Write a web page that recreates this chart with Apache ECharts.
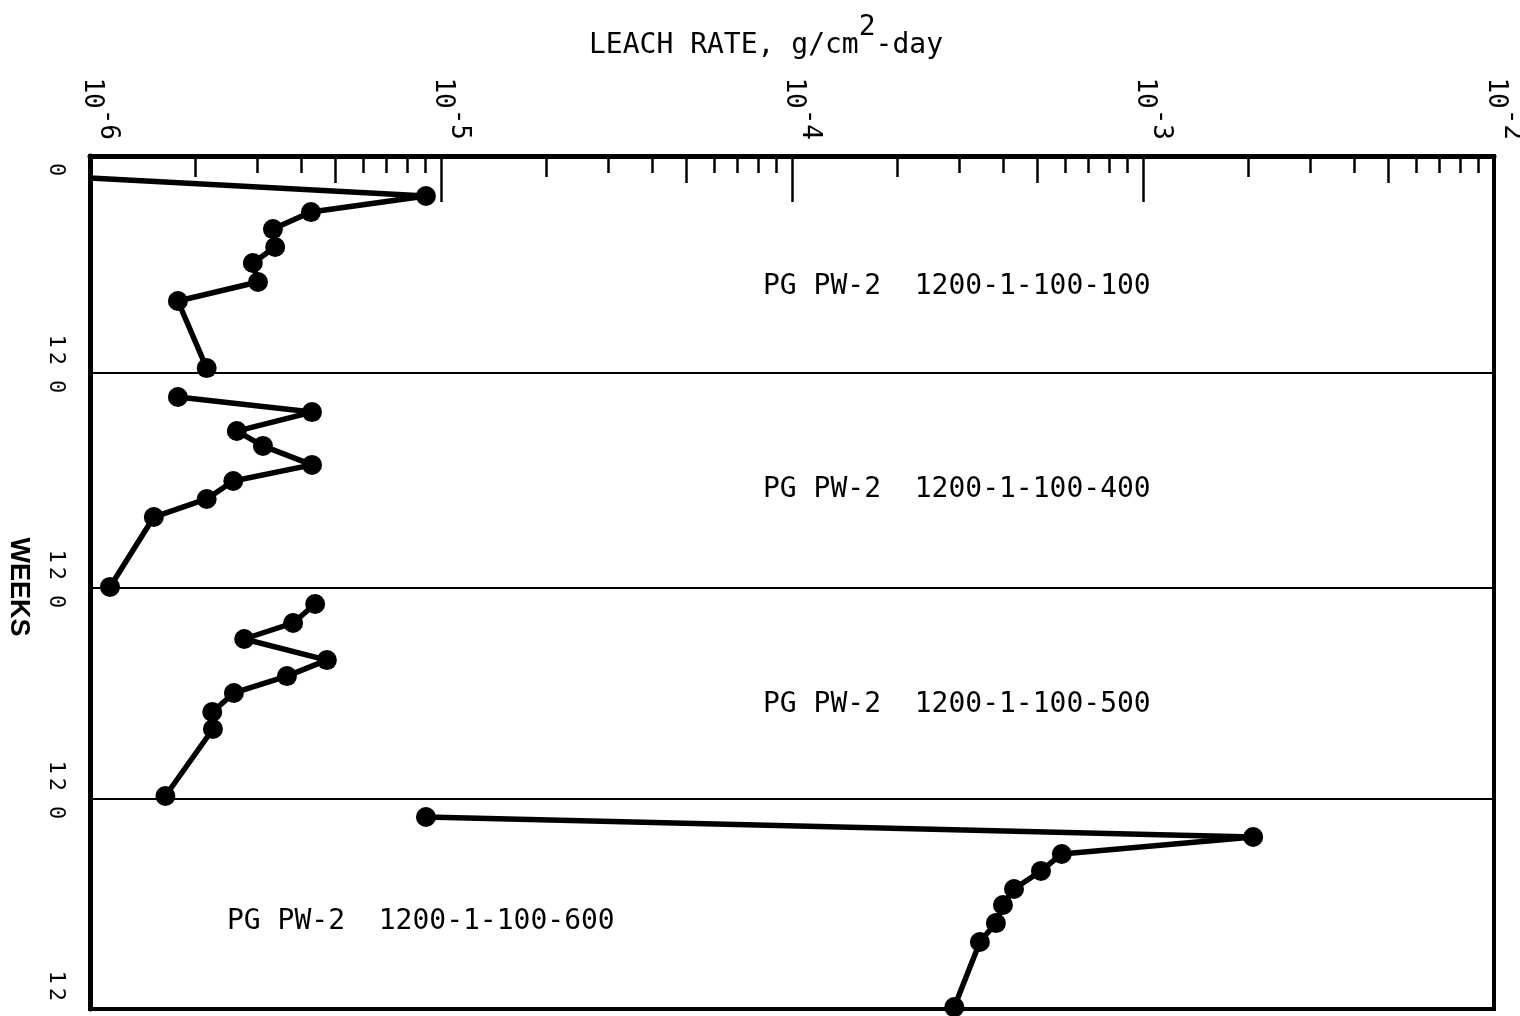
<!DOCTYPE html>
<html>
<head>
<meta charset="utf-8">
<script src="https://cdn.jsdelivr.net/npm/echarts@6/dist/echarts.min.js"></script>
<style>
html,body{margin:0;padding:0;background:#fff;}
#chart{width:1520px;height:1016px;}
</style>
</head>
<body>
<div id="chart"></div>
<script>
// ---------------- data ----------------
const axisTitle = '{b|LEACH RATE, g/cm}{s|2}{b|-day}';
const weeksAxisName = 'WEEKS';
const panelLabels = [
  'PG PW-2  1200-1-100-100',
  'PG PW-2  1200-1-100-400',
  'PG PW-2  1200-1-100-500',
  'PG PW-2  1200-1-100-600'
];
const rateMin = 1e-6;
const rateMax = 1e-2;
const weekMin = 0;
const weekMax = 12;
const minorMultipliers5 = [5];
const minorMultipliers2 = [2];
const minorMultipliersOther = [3, 4, 6, 7, 8, 9];

// weeks (0 at top of each panel, 12 at bottom) and leach rate g/cm2-day
const weeksP1 = [1.22, 2.21, 3.10, 4.04, 5.03, 5.92, 6.97, 8.02, 11.73];
const rateP1  = [1.0e-6, 9.06e-6, 4.26e-6, 3.32e-6, 3.37e-6, 2.91e-6, 3.01e-6, 1.78e-6, 2.15e-6];

const weeksP2 = [1.34, 2.18, 3.24, 4.07, 5.13, 6.03, 7.03, 8.04, 11.94];
const rateP2  = [1.78e-6, 4.29e-6, 2.62e-6, 3.11e-6, 4.29e-6, 2.56e-6, 2.15e-6, 1.52e-6, 1.14e-6];

const weeksP3 = [0.91, 1.99, 2.90, 4.10, 5.01, 5.97, 7.05, 8.02, 11.83];
const rateP3  = [4.38e-6, 3.79e-6, 2.75e-6, 4.73e-6, 3.64e-6, 2.57e-6, 2.23e-6, 2.24e-6, 1.64e-6];

const weeksP4 = [1.03, 2.17, 3.14, 4.11, 5.14, 6.06, 7.09, 8.17, 11.89];
const rateP4  = [9.06e-6, 2.06e-3, 5.87e-4, 5.12e-4, 4.29e-4, 3.99e-4, 3.81e-4, 3.43e-4, 2.90e-4];

// ---------------- layout / style ----------------
const MONO = "'DejaVu Sans Mono', 'Liberation Mono', monospace";
const PLOT_LEFT = 90, PLOT_WIDTH = 1404;
const panelTops = [156, 373, 588, 799];
const panelHeights = [217, 215, 211, 210];
const panelLabelPos = [[763, 287], [763, 490], [763, 705], [227, 922]];

const panels = [
  {weeks: weeksP1, rates: rateP1, hideFirstMarker: true},
  {weeks: weeksP2, rates: rateP2, hideFirstMarker: false},
  {weeks: weeksP3, rates: rateP3, hideFirstMarker: false},
  {weeks: weeksP4, rates: rateP4, hideFirstMarker: false}
];

const logMin = Math.log10(rateMin), logMax = Math.log10(rateMax);
function minorValues(mults) {
  const out = [];
  for (let e = logMin; e < logMax; e++) {
    mults.forEach(m => out.push(e + Math.log10(m)));
  }
  return out;
}

const grids = panelTops.map((t, i) => ({
  left: PLOT_LEFT, width: PLOT_WIDTH, top: t, height: panelHeights[i],
  show: true, borderColor: '#000', borderWidth: 2, backgroundColor: 'transparent',
  containLabel: false, outerBoundsMode: 'none'
}));
// overlay frame
grids.push({
  left: PLOT_LEFT, width: PLOT_WIDTH, top: panelTops[0],
  height: panelTops[3] + panelHeights[3] - panelTops[0],
  show: true, borderColor: '#000', borderWidth: 4, backgroundColor: 'transparent',
  containLabel: false, outerBoundsMode: 'none'
});

const xAxes = [];
panels.forEach((p, i) => {
  xAxes.push({
    type: 'log', logBase: 10, gridIndex: i, min: rateMin, max: rateMax,
    position: 'top', show: i === 0,
    axisLine: {show: true, onZero: false, lineStyle: {color: '#000', width: 5}},
    axisTick: {show: true, inside: true, length: 46, lineStyle: {color: '#000', width: 2.5}},
    minorTick: {show: false},
    splitLine: {show: false},
    axisLabel: {
      show: true, showMinLabel: true, showMaxLabel: true,
      rotate: 90, margin: 16, align: 'right', verticalAlign: 'middle',
      padding: [0, 0, 20, 0],
      formatter: v => '{b|10}{s|' + Math.round(Math.log10(v)) + '}',
      rich: {
        b: {fontFamily: MONO, fontSize: 26, lineHeight: 42, verticalAlign: 'bottom', color: '#000'},
        s: {fontFamily: MONO, fontSize: 26, lineHeight: 42, verticalAlign: 'top', color: '#000'}
      }
    }
  });
});
[[minorMultipliers5, 27], [minorMultipliers2, 21], [minorMultipliersOther, 17]].forEach(([mults, len]) => {
  xAxes.push({
    type: 'value', gridIndex: 0, min: logMin, max: logMax, position: 'top',
    axisLine: {show: false, onZero: false},
    axisTick: {show: true, inside: true, length: len, customValues: minorValues(mults),
               lineStyle: {color: '#000', width: 2.5}},
    axisLabel: {show: false},
    splitLine: {show: false}
  });
});
xAxes.push({type: 'value', gridIndex: 4, show: false, min: 0, max: 1});

const weekLabelRich = {d: {fontFamily: MONO, fontSize: 22, color: '#000', padding: [0, 2, 0, 2]}};
const weekFormatter = v => String(v).split('').map(c => '{d|' + c + '}').join('');

const yAxes = [];
panels.forEach((p, i) => {
  yAxes.push({
    type: 'value', gridIndex: i, position: 'left', min: weekMin, max: weekMax,
    interval: weekMax - weekMin, inverse: true,
    axisLine: {show: true, onZero: false, lineStyle: {color: '#000', width: 5}},
    axisTick: {show: false}, splitLine: {show: false},
    axisLabel: {show: true, showMinLabel: true, showMaxLabel: false, rotate: -90, margin: 34,
                align: 'left', verticalAlign: 'middle', padding: [0, 0, 0, 5],
                formatter: weekFormatter, rich: weekLabelRich}
  });
});
panels.forEach((p, i) => {
  yAxes.push({
    type: 'value', gridIndex: i, position: 'left', offset: 0, min: weekMin, max: weekMax,
    interval: weekMax - weekMin, inverse: true,
    axisLine: {show: false, onZero: false}, axisTick: {show: false}, splitLine: {show: false},
    axisLabel: {show: true, showMinLabel: false, showMaxLabel: true, rotate: -90, margin: 34,
                align: 'right', verticalAlign: 'middle', padding: [0, 6, 0, 0],
                formatter: weekFormatter, rich: weekLabelRich}
  });
});
yAxes.push({type: 'value', gridIndex: 4, show: false, min: 0, max: 1});

const series = panels.map((p, i) => ({
  type: 'line', xAxisIndex: i, yAxisIndex: i, clip: false, silent: true,
  symbol: 'circle', symbolSize: 20,
  lineStyle: {color: '#000', width: 5.5},
  itemStyle: {color: '#000'},
  data: p.weeks.map((w, j) => {
    const item = {value: [p.rates[j], w]};
    if (j === 0 && p.hideFirstMarker) item.symbol = 'none';
    return item;
  })
}));

const graphic = panelLabels.map((t, i) => ({
  type: 'text', x: panelLabelPos[i][0], y: panelLabelPos[i][1], silent: true,
  style: {text: t, font: '28px ' + MONO, fill: '#000', align: 'left', verticalAlign: 'middle'}
}));
graphic.push({
  type: 'text', x: 18, y: 587, rotation: -Math.PI / 2, silent: true,
  style: {text: weeksAxisName, font: "bold 27px 'Liberation Sans Narrow', 'Liberation Sans', sans-serif",
          fill: '#000', align: 'center', verticalAlign: 'middle'}
});

const chart = echarts.init(document.getElementById('chart'), null, {renderer: 'canvas'});
chart.setOption({
  animation: false,
  backgroundColor: '#fff',
  title: {
    text: axisTitle, left: 584, top: 9,
    textStyle: {
      fontWeight: 'normal',
      rich: {
        b: {fontFamily: MONO, fontSize: 28, fontWeight: 'normal', lineHeight: 46, verticalAlign: 'bottom', color: '#000'},
        s: {fontFamily: MONO, fontSize: 28, fontWeight: 'normal', lineHeight: 46, verticalAlign: 'top', color: '#000'}
      }
    }
  },
  grid: grids,
  xAxis: xAxes,
  yAxis: yAxes,
  series: series,
  graphic: graphic
});
</script>
</body>
</html>
